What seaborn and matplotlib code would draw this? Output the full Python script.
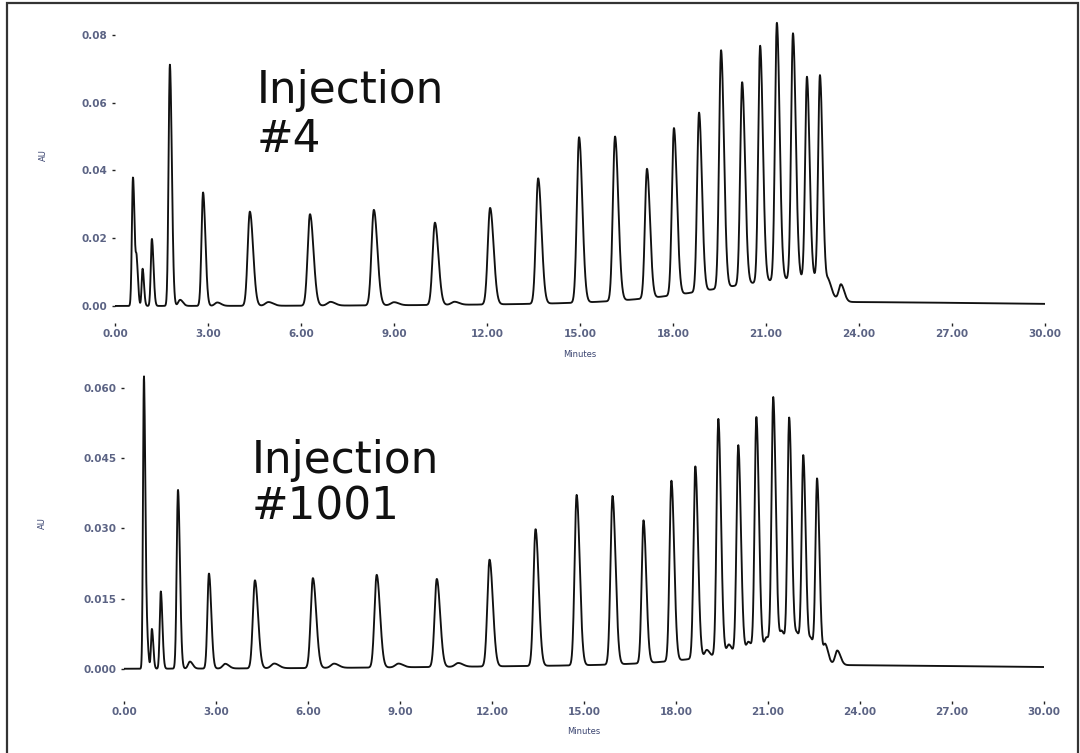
import numpy as np
import pandas as pd
import matplotlib
matplotlib.use("Agg")
import matplotlib.pyplot as plt
import seaborn as sns
from matplotlib.patches import Rectangle

# peaks: retention time (min), height (AU), width (sigma, min)
top_rt = [0.58, 0.70, 0.89, 1.19, 1.77, 2.10, 2.84, 3.30, 4.35, 4.95, 6.29, 6.95,
          8.35, 9.00, 10.32, 10.95, 12.10, 13.65, 14.97, 16.13, 17.16, 18.03, 18.84,
          19.55, 20.23, 20.81, 21.35, 21.87, 22.32, 22.74, 23.02, 23.42]
top_au = [0.0380, 0.0120, 0.0110, 0.0198, 0.0712, 0.0018, 0.0335, 0.0010, 0.0278,
          0.0011, 0.0270, 0.0011, 0.0282, 0.0009, 0.0243, 0.0009, 0.0285, 0.0370,
          0.0488, 0.0485, 0.0382, 0.0493, 0.0528, 0.0702, 0.0598, 0.0698, 0.0760,
          0.0725, 0.0595, 0.0605, 0.0030, 0.0048]
top_sd = [0.035, 0.030, 0.030, 0.035, 0.042, 0.060, 0.050, 0.080, 0.070, 0.100,
          0.075, 0.100, 0.075, 0.100, 0.075, 0.100, 0.075, 0.072, 0.070, 0.070,
          0.065, 0.065, 0.062, 0.062, 0.062, 0.060, 0.060, 0.060, 0.057, 0.057,
          0.060, 0.070]

bot_rt = [0.65, 0.75, 0.91, 1.20, 1.76, 2.15, 2.77, 3.30, 4.27, 4.90, 6.16, 6.85,
          8.24, 8.95, 10.20, 10.90, 11.92, 13.42, 14.76, 15.93, 16.94, 17.85, 18.63,
          19.00, 19.38, 19.72, 20.03, 20.36, 20.62, 20.95, 21.17, 21.45, 21.69,
          21.95, 22.15, 22.40, 22.60, 22.87, 23.26]
bot_au = [0.0625, 0.0060, 0.0085, 0.0165, 0.0382, 0.0015, 0.0203, 0.0010, 0.0188,
          0.0010, 0.0192, 0.0009, 0.0198, 0.0008, 0.0188, 0.0008, 0.0228, 0.0292,
          0.0364, 0.0360, 0.0305, 0.0385, 0.0410, 0.0015, 0.0505, 0.0020, 0.0443,
          0.0020, 0.0498, 0.0025, 0.0536, 0.0035, 0.0490, 0.0028, 0.0408, 0.0022,
          0.0375, 0.0035, 0.0030]
bot_sd = [0.030, 0.030, 0.030, 0.035, 0.042, 0.060, 0.050, 0.080, 0.068, 0.100,
          0.072, 0.100, 0.072, 0.100, 0.072, 0.100, 0.072, 0.068, 0.066, 0.066,
          0.060, 0.060, 0.058, 0.060, 0.057, 0.060, 0.057, 0.060, 0.056, 0.060,
          0.055, 0.060, 0.055, 0.060, 0.052, 0.050, 0.052, 0.060, 0.070]

# broad baseline humps (gradient drift)
top_hump_rt = [22.6, 22.0]
top_hump_au = [0.0070, 0.0012]
top_hump_sd_left = [3.0, 7.0]
top_hump_sd_right = [0.35, 7.0]

bot_hump_rt = [22.2, 20.0]
bot_hump_au = [0.0038, 0.0009]
bot_hump_sd_left = [2.5, 8.0]
bot_hump_sd_right = [0.4, 8.0]

x_ticks = [0, 3, 6, 9, 12, 15, 18, 21, 24, 27, 30]
x_ticklabels = ["0.00", "3.00", "6.00", "9.00", "12.00", "15.00", "18.00",
                "21.00", "24.00", "27.00", "30.00"]
top_yticks = [0.0, 0.02, 0.04, 0.06, 0.08]
top_yticklabels = ["0.00", "0.02", "0.04", "0.06", "0.08"]
bot_yticks = [0.0, 0.015, 0.030, 0.045, 0.060]
bot_yticklabels = ["0.000", "0.015", "0.030", "0.045", "0.060"]


def build_trace(t, rt, au, sd, hump_rt, hump_au, hump_sl, hump_sr, tail=1.5):
    y = np.zeros_like(t)
    for r, h, s in zip(rt, au, sd):
        s_arr = np.where(t < r, s, s * tail)
        y += h * np.exp(-0.5 * ((t - r) / s_arr) ** 2)
    for r, h, sl, sr in zip(hump_rt, hump_au, hump_sl, hump_sr):
        s_arr = np.where(t < r, sl, sr)
        y += h * np.exp(-0.5 * ((t - r) / s_arr) ** 2)
    return y


t = np.linspace(0, 30, 4001)
df_top = pd.DataFrame({"Minutes": t,
                       "AU": build_trace(t, top_rt, top_au, top_sd, top_hump_rt,
                                         top_hump_au, top_hump_sd_left, top_hump_sd_right)})
df_bot = pd.DataFrame({"Minutes": t,
                       "AU": build_trace(t, bot_rt, bot_au, bot_sd, bot_hump_rt,
                                         bot_hump_au, bot_hump_sd_left, bot_hump_sd_right)})

sns.set_theme(style="white")
plt.rcParams["font.family"] = ["DejaVu Sans"]

fig = plt.figure(figsize=(10.8, 7.53), dpi=100)
ax1 = fig.add_axes([115 / 1080, 0.5869, 930 / 1080, 0.3892])
ax2 = fig.add_axes([124 / 1080, 0.1023, 920 / 1080, 0.4042])

tick_col = "#5b6384"
panels = [
    (ax1, df_top, (-0.0015, 0.085), top_yticks, top_yticklabels, 12, -0.133, (-0.072, 0.532)),
    (ax2, df_bot, (-0.0015, 0.0635), bot_yticks, bot_yticklabels, 25, -0.168, (-0.0837, 0.503)),
]
for ax, df, ylim, yt, ytl, offset, xlab_y, ylab_xy in panels:
    sns.lineplot(data=df, x="Minutes", y="AU", ax=ax, color="#111111",
                 linewidth=1.35, estimator=None)
    ax.set_xlim(0, 30)
    ax.set_ylim(*ylim)
    ax.set_xticks(x_ticks)
    ax.set_xticklabels(x_ticklabels)
    ax.set_yticks(yt)
    ax.set_yticklabels(ytl)
    for s in ax.spines.values():
        s.set_visible(False)
    ax.spines["bottom"].set_position(("outward", offset * 0.72))
    ax.tick_params(axis="both", bottom=True, left=True, direction="out",
                   length=2.5, width=1.0, color="#222222", labelsize=7.5,
                   labelcolor=tick_col)
    ax.tick_params(axis="x", pad=1.5)
    ax.tick_params(axis="y", pad=3)
    for lab in ax.get_xticklabels() + ax.get_yticklabels():
        lab.set_fontweight("bold")
    ax.set_xlabel("Minutes", fontsize=6, color="#3a4470")
    ax.set_ylabel("AU", fontsize=6, color="#3a4470")
    ax.xaxis.set_label_coords(0.5, xlab_y)
    ax.yaxis.set_label_coords(*ylab_xy)
    ax.patch.set_alpha(0)

# injection labels
big = dict(fontsize=31.5, color="#111111", va="baseline")
fig.text(257 / 1080, 1 - 103 / 753, "Injection", **big)
fig.text(257 / 1080, 1 - 152 / 753, "#4", **big)
fig.text(252 / 1080, 1 - 473 / 753, "Injection", **big)
fig.text(252 / 1080, 1 - 520 / 753, "#1001", **big)

# outer frame
fig.add_artist(Rectangle((7 / 1080, -0.01), (1078 - 7) / 1080, 1.0 - 3 / 753 + 0.01,
                         transform=fig.transFigure, fill=False,
                         edgecolor="#333333", linewidth=1.6))

fig.savefig("out.png", dpi=100)
